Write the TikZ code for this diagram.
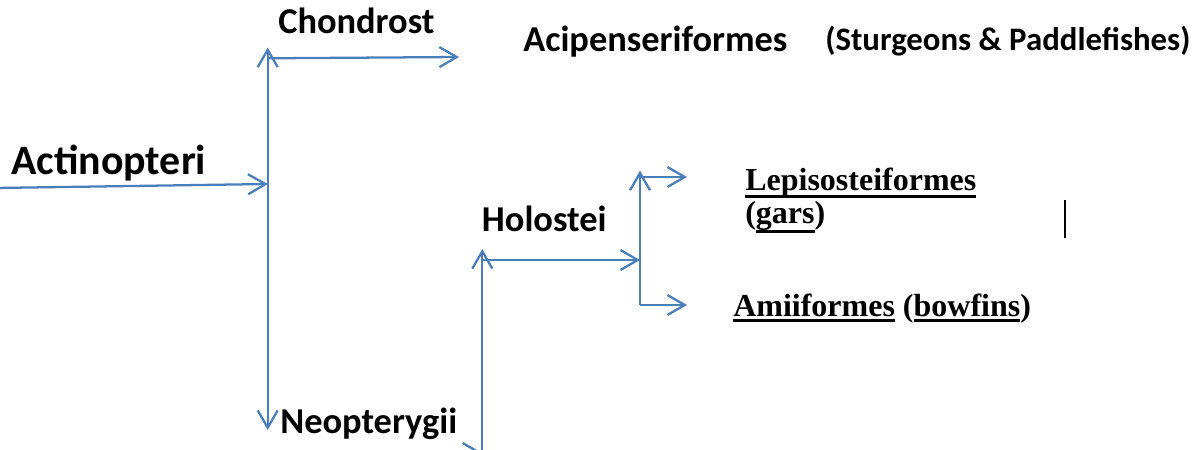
\documentclass[tikz,border=0pt]{standalone}
\usepackage{fontspec}
\setmainfont{Liberation Serif}
\newfontfamily\carlito{Carlito}
\usetikzlibrary{arrows.meta}
\definecolor{lineblue}{HTML}{4A7EBB}
\newcommand\ulx[2][5pt]{\setbox0\hbox{#2}\leavevmode\rlap{\rule[-#1]{\wd0}{2pt}}\box0\relax}
\begin{document}
\begin{tikzpicture}[x=0.75pt, y=-0.75pt,
  conn/.style={draw=lineblue, line width=1.7pt, -{Straight Barb[length=13pt,width=15pt]}},
  plain/.style={draw=lineblue, line width=1.7pt},
  lbl/.style={inner sep=0pt, anchor=base west, text=black},
  sansA/.style={lbl, font=\carlito\bfseries\fontsize{31.4}{36}\selectfont},
  sansB/.style={lbl, font=\carlito\bfseries\fontsize{27.3}{32}\selectfont},
  sansC/.style={lbl, font=\carlito\bfseries\fontsize{24.6}{29}\selectfont},
  serifB/.style={lbl, font=\bfseries\fontsize{24}{25}\selectfont}]
\useasboundingbox (0,0) rectangle (1197,450);
\clip (0,0) rectangle (1197,450);
\fill[white] (0,0) rectangle (1197,450);

% labels
\node[sansA] (act) at (11,174) {Actinopteri};
\node[sansB] (cho) at (278,33) {Chondrost};
\node[sansB] (aci) at (523,51) {Acipenseriformes};
\node[sansC] (stu) at (825,50) {(Sturgeons \& Paddlefishes)};
\node[sansB] (hol) at (481.7,231.7) {Holostei};
\node[sansB] (neo) at (280,433) {Neopterygii};
\node[serifB] (lep) at (745,190) {\ulx[6pt]{Lepisosteiformes}};
\node[serifB] (gars) at (745,223) {(\ulx[7.5pt]{gars})};
\node[serifB] (ami) at (733,316) {\ulx[4.4pt]{Amiiformes} (\ulx[4.4pt]{bowfins})};

% junction coordinates
\coordinate (actstart) at (-5,188);
\coordinate (j1) at (267.7,184);
\coordinate (chtop) at (267.7,47.5);
\coordinate (chstart) at (268.5,58.3);
\coordinate (chend) at (459,57);
\coordinate (neobot) at (267.7,430);
\coordinate (j3in) at (380,453);
\coordinate (j3) at (482.3,453);
\coordinate (holtop) at (482.3,249);
\coordinate (holstart) at (483,260);
\coordinate (j4) at (640,260);
\coordinate (leptop) at (640,170.7);
\coordinate (lepstart) at (640.5,177);
\coordinate (lepend) at (687,177);
\coordinate (amicorner) at (640,305);
\coordinate (amiend) at (687,305);
\coordinate (cur1) at (1065,200);
\coordinate (cur2) at (1065,238);

% connectors
\draw[conn] (actstart) -- (j1);
\draw[conn] (j1) -- (chtop);
\draw[conn] (j1) -- (neobot);
\draw[conn] (chstart) -- (chend);
\draw[conn] (j3in) -- (j3);
\draw[conn] (j3) -- (holtop);
\draw[conn] (holstart) -- (j4);
\draw[conn] (j4) -- (leptop);
\draw[conn] (lepstart) -- (lepend);
\draw[plain] (j4) -- (amicorner);
\draw[conn] (amicorner) -- (amiend);

% text cursor
\draw[black, line width=1.5pt] (cur1) -- (cur2);
\end{tikzpicture}
\end{document}
